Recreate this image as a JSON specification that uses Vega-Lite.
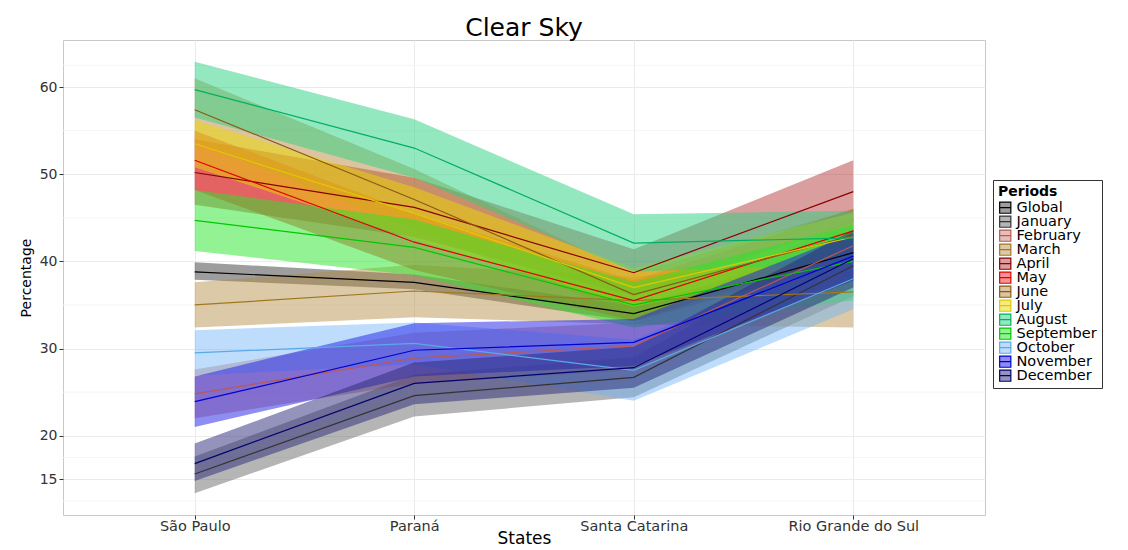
{
  "$schema": "https://vega.github.io/schema/vega-lite/v6.json",
  "width": 922,
  "height": 475,
  "autosize": {"type": "none"},
  "padding": {"left": 63, "top": 40, "right": 143, "bottom": 35},
  "background": "white",
  "title": {"text": "Clear Sky", "fontSize": 25, "font": "DejaVu Sans", "fontWeight": "normal", "color": "black", "offset": -1},
  "config": {
    "font": "DejaVu Sans",
    "view": {"stroke": "#c8c8c8", "strokeWidth": 1},
    "legend": {
      "symbolType": "M-1,-1H1V1H-1Z M-1,0H1",
      "symbolSize": 125,
      "symbolStrokeWidth": 1.2
    }
  },
  "datasets": {
    "minor": [{"g": 12.5}, {"g": 17.5}, {"g": 25}, {"g": 35}, {"g": 45}, {"g": 55}, {"g": 62.5}],
    "bands": [
      {"p": "Global", "s": "São Paulo", "m": 38.8, "lo": 37.9, "hi": 39.9},
      {"p": "Global", "s": "Paraná", "m": 37.6, "lo": 36.8, "hi": 38.5},
      {"p": "Global", "s": "Santa Catarina", "m": 34.0, "lo": 33.1, "hi": 34.9},
      {"p": "Global", "s": "Rio Grande do Sul", "m": 41.0, "lo": 40.0, "hi": 42.0},
      {"p": "January", "s": "São Paulo", "m": 15.6, "lo": 13.4, "hi": 17.6},
      {"p": "January", "s": "Paraná", "m": 24.6, "lo": 22.2, "hi": 27.0},
      {"p": "January", "s": "Santa Catarina", "m": 26.7, "lo": 24.4, "hi": 29.0},
      {"p": "January", "s": "Rio Grande do Sul", "m": 39.5, "lo": 36.0, "hi": 43.0},
      {"p": "February", "s": "São Paulo", "m": 24.8, "lo": 22.0, "hi": 27.6},
      {"p": "February", "s": "Paraná", "m": 28.9, "lo": 26.0, "hi": 31.8},
      {"p": "February", "s": "Santa Catarina", "m": 30.3, "lo": 27.5, "hi": 33.0},
      {"p": "February", "s": "Rio Grande do Sul", "m": 41.8, "lo": 38.5, "hi": 45.0},
      {"p": "March", "s": "São Paulo", "m": 35.0, "lo": 32.4, "hi": 37.6},
      {"p": "March", "s": "Paraná", "m": 36.6, "lo": 33.6, "hi": 39.6},
      {"p": "March", "s": "Santa Catarina", "m": 35.5, "lo": 32.8, "hi": 38.2},
      {"p": "March", "s": "Rio Grande do Sul", "m": 36.5, "lo": 32.4, "hi": 40.6},
      {"p": "April", "s": "São Paulo", "m": 50.2, "lo": 46.5, "hi": 54.0},
      {"p": "April", "s": "Paraná", "m": 46.2, "lo": 42.8, "hi": 49.6},
      {"p": "April", "s": "Santa Catarina", "m": 38.7, "lo": 36.0, "hi": 41.4},
      {"p": "April", "s": "Rio Grande do Sul", "m": 48.0, "lo": 44.5, "hi": 51.6},
      {"p": "May", "s": "São Paulo", "m": 51.6, "lo": 48.2, "hi": 55.0},
      {"p": "May", "s": "Paraná", "m": 42.2, "lo": 39.0, "hi": 45.5},
      {"p": "May", "s": "Santa Catarina", "m": 35.5, "lo": 33.2, "hi": 37.8},
      {"p": "May", "s": "Rio Grande do Sul", "m": 43.5, "lo": 41.0, "hi": 46.0},
      {"p": "June", "s": "São Paulo", "m": 57.4, "lo": 53.8, "hi": 61.0},
      {"p": "June", "s": "Paraná", "m": 47.1, "lo": 43.6, "hi": 50.6},
      {"p": "June", "s": "Santa Catarina", "m": 36.2, "lo": 33.8, "hi": 38.6},
      {"p": "June", "s": "Rio Grande do Sul", "m": 43.0, "lo": 40.0, "hi": 46.0},
      {"p": "July", "s": "São Paulo", "m": 53.5, "lo": 50.8, "hi": 56.2},
      {"p": "July", "s": "Paraná", "m": 45.5, "lo": 42.5, "hi": 48.5},
      {"p": "July", "s": "Santa Catarina", "m": 37.0, "lo": 34.8, "hi": 39.2},
      {"p": "July", "s": "Rio Grande do Sul", "m": 42.8, "lo": 40.0, "hi": 45.6},
      {"p": "August", "s": "São Paulo", "m": 59.7, "lo": 56.5, "hi": 62.9},
      {"p": "August", "s": "Paraná", "m": 53.0, "lo": 49.6, "hi": 56.3},
      {"p": "August", "s": "Santa Catarina", "m": 42.1, "lo": 38.8, "hi": 45.4},
      {"p": "August", "s": "Rio Grande do Sul", "m": 42.7, "lo": 39.8, "hi": 45.8},
      {"p": "September", "s": "São Paulo", "m": 44.7, "lo": 41.2, "hi": 48.2},
      {"p": "September", "s": "Paraná", "m": 41.6, "lo": 38.4, "hi": 44.8},
      {"p": "September", "s": "Santa Catarina", "m": 35.0, "lo": 32.4, "hi": 37.6},
      {"p": "September", "s": "Rio Grande do Sul", "m": 40.0, "lo": 35.5, "hi": 44.2},
      {"p": "October", "s": "São Paulo", "m": 29.5, "lo": 26.9, "hi": 32.1},
      {"p": "October", "s": "Paraná", "m": 30.6, "lo": 28.2, "hi": 33.0},
      {"p": "October", "s": "Santa Catarina", "m": 27.5, "lo": 24.0, "hi": 31.0},
      {"p": "October", "s": "Rio Grande do Sul", "m": 38.0, "lo": 34.5, "hi": 41.5},
      {"p": "November", "s": "São Paulo", "m": 23.9, "lo": 21.0, "hi": 26.8},
      {"p": "November", "s": "Paraná", "m": 29.8, "lo": 26.8, "hi": 32.9},
      {"p": "November", "s": "Santa Catarina", "m": 30.7, "lo": 28.0, "hi": 33.4},
      {"p": "November", "s": "Rio Grande do Sul", "m": 40.6, "lo": 37.8, "hi": 43.2},
      {"p": "December", "s": "São Paulo", "m": 16.8, "lo": 14.8, "hi": 19.1},
      {"p": "December", "s": "Paraná", "m": 26.0, "lo": 23.6, "hi": 28.4},
      {"p": "December", "s": "Santa Catarina", "m": 27.8, "lo": 25.5, "hi": 30.2},
      {"p": "December", "s": "Rio Grande do Sul", "m": 40.3, "lo": 37.0, "hi": 43.6}
    ]
  },
  "layer": [
    {
      "data": {"name": "minor"},
      "mark": {"type": "rule", "color": "#f3f3f3", "strokeWidth": 0.8},
      "encoding": {
        "y": {"field": "g", "type": "quantitative"}
      }
    },
    {
      "data": {"name": "bands"},
      "mark": {"type": "area"},
      "encoding": {
        "x": {
          "field": "s",
          "type": "nominal",
          "sort": ["São Paulo", "Paraná", "Santa Catarina", "Rio Grande do Sul"],
          "scale": {"type": "point", "padding": 0.6},
          "axis": {
            "title": "States",
            "titleFontSize": 17,
            "titleFontWeight": "normal",
            "titleColor": "black",
            "titlePadding": -2,
            "labelFontSize": 14.5,
            "labelColor": "#333333",
            "labelAngle": 0,
            "labelPadding": 0,
            "tickSize": 4,
            "tickColor": "#333333",
            "domain": false,
            "grid": true,
            "gridColor": "#ebebeb"
          }
        },
        "y": {
          "field": "lo",
          "type": "quantitative",
          "scale": {"domain": [10.9, 65.4], "nice": false, "zero": false},
          "axis": {
            "title": "Percentage",
            "titleFontSize": 14,
            "titleFontWeight": "normal",
            "titleColor": "black",
            "titlePadding": 6,
            "values": [15, 20, 30, 40, 50, 60],
            "labelFontSize": 14,
            "labelColor": "#333333",
            "labelPadding": 2,
            "tickSize": 4,
            "tickColor": "#333333",
            "domain": false,
            "grid": true,
            "gridColor": "#ebebeb"
          }
        },
        "y2": {"field": "hi"},
        "fill": {
          "field": "p",
          "type": "nominal",
          "scale": {
            "domain": ["Global", "January", "February", "March", "April", "May", "June", "July", "August", "September", "October", "November", "December"],
            "range": ["rgba(60,60,60,0.5)", "rgba(90,90,90,0.45)", "rgba(200,110,100,0.45)", "rgba(175,135,60,0.45)", "rgba(175,40,40,0.45)", "rgba(235,40,40,0.5)", "rgba(180,125,45,0.45)", "rgba(235,215,0,0.5)", "rgba(40,210,130,0.5)", "rgba(40,230,40,0.5)", "rgba(110,180,250,0.45)", "rgba(30,30,230,0.5)", "rgba(40,40,120,0.5)"]
          },
          "legend": {
            "title": "Periods",
            "orient": "none",
            "legendX": 930,
            "legendY": 140,
            "titleFontSize": 14,
            "titleFontWeight": "bold",
            "titleColor": "black",
            "labelFontSize": 14.5,
            "labelColor": "black",
            "strokeColor": "#333333",
            "padding": 5,
            "rowPadding": -3.4,
            "clipHeight": 13.3,
            "titlePadding": 2,
            "labelOffset": 4
          }
        }
      }
    },
    {
      "data": {"name": "bands"},
      "mark": {"type": "line", "strokeWidth": 1.2},
      "encoding": {
        "x": {
          "field": "s",
          "type": "nominal",
          "sort": ["São Paulo", "Paraná", "Santa Catarina", "Rio Grande do Sul"]
        },
        "y": {"field": "m", "type": "quantitative"},
        "stroke": {
          "field": "p",
          "type": "nominal",
          "scale": {
            "domain": ["Global", "January", "February", "March", "April", "May", "June", "July", "August", "September", "October", "November", "December"],
            "range": ["#000000", "#333333", "#b85858", "#a07820", "#8b0000", "#e00000", "#8b5a14", "#e0c800", "#00b060", "#00c800", "#5aaae6", "#0000d0", "#000070"]
          },
          "legend": {
            "title": "Periods",
            "orient": "none",
            "legendX": 930,
            "legendY": 140,
            "titleFontSize": 14,
            "titleFontWeight": "bold",
            "titleColor": "black",
            "labelFontSize": 14.5,
            "labelColor": "black",
            "strokeColor": "#333333",
            "padding": 5,
            "rowPadding": -3.4,
            "clipHeight": 13.3,
            "titlePadding": 2,
            "labelOffset": 4
          }
        }
      }
    }
  ]
}
